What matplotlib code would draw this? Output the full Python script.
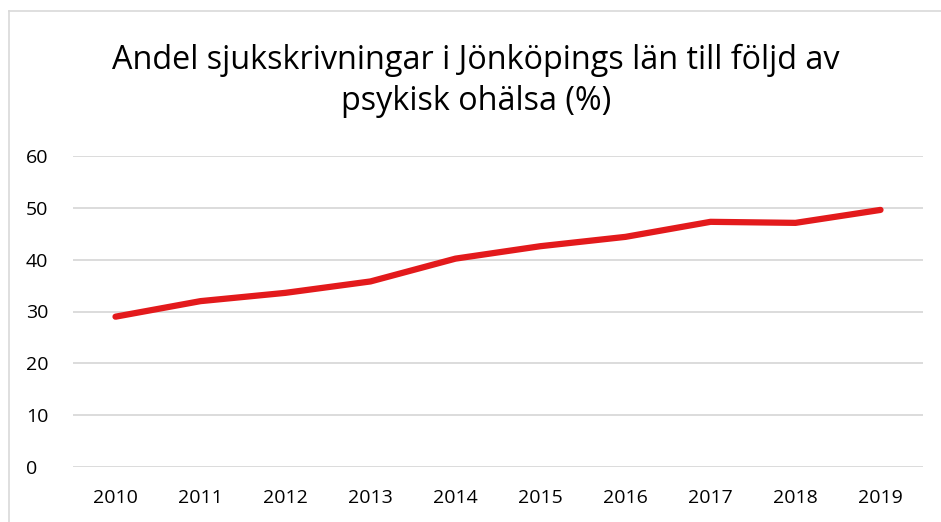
import matplotlib
matplotlib.use('Agg')
import matplotlib.pyplot as plt
from matplotlib.lines import Line2D

years = [2010, 2011, 2012, 2013, 2014, 2015, 2016, 2017, 2018, 2019]
andel = [29.0, 32.0, 33.6, 35.8, 40.2, 42.6, 44.4, 47.3, 47.1, 49.6]
yticks = [0, 10, 20, 30, 40, 50, 60]

plt.rcParams['font.family'] = ['Open Sans', 'DejaVu Sans']

W, H = 941, 522
fig = plt.figure(figsize=(W / 100, H / 100), dpi=100)
ax = fig.add_axes([73 / W, 1 - 467 / H, (923 - 73) / W, (467 - 156) / H])

x = list(range(len(years)))
ax.plot(x, andel, color='#e31a1c', linewidth=4.5, solid_capstyle='round', solid_joinstyle='round')

ax.set_xlim(-0.5, len(years) - 0.5)
ax.set_ylim(0, 60)
ax.set_yticks(yticks)
ax.set_xticks(x)
ax.set_xticklabels([str(y) for y in years])
ax.grid(axis='y', color='#d9d9d9', linewidth=1.3)
ax.set_axisbelow(True)
for s in ax.spines.values():
    s.set_visible(False)
ax.tick_params(length=0, labelsize=14, colors='black')
ax.tick_params(axis='y', pad=34)
ax.tick_params(axis='x', pad=16)
for lbl in ax.get_yticklabels():
    lbl.set_horizontalalignment('left')

fig.text(476 / W, 1 - 81 / H, 'Andel sjukskrivningar i Jönköpings län till följd av\npsykisk ohälsa (%)',
         ha='center', va='center', fontsize=23.3, linespacing=1.35)

# chart border (top and left visible)
fig.add_artist(Line2D([9 / W, 9 / W], [0, 1 - 11 / H], transform=fig.transFigure, color='#d9d9d9', linewidth=1.2))
fig.add_artist(Line2D([9 / W, 1], [1 - 11 / H, 1 - 11 / H], transform=fig.transFigure, color='#d9d9d9', linewidth=1.2))

fig.savefig('out.png', dpi=100)
